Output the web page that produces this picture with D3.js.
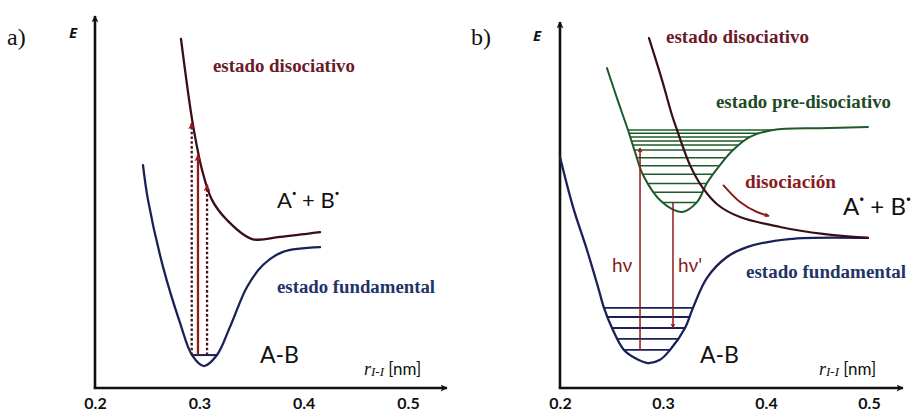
<!DOCTYPE html>
<html><head><meta charset="utf-8">
<script src="https://cdn.jsdelivr.net/npm/d3@7"></script>
<style>
html,body{margin:0;padding:0;background:#fff;}
svg{display:block;}
</style></head>
<body>
<svg id="chart" width="912" height="414"></svg>
<script>
// ---------- data (r in nm, E in arbitrary units) ----------
const xTicks = [0.2, 0.3, 0.4, 0.5];
const tickLabels = ["0.2", "0.3", "0.4", "0.5"];

// panel a
const groundA = [[0.246,6.09],[0.2508,5.14],[0.2652,3.31],[0.2815,1.78],[0.293,0.90],[0.3045,0.60],[0.3169,0.90],[0.3294,1.67],[0.3457,2.76],[0.361,3.36],[0.3802,3.72],[0.4157,3.85]];
const dissocA = [[0.2824,9.54],[0.2882,8.28],[0.2939,7.19],[0.3026,5.96],[0.3121,5.14],[0.3265,4.59],[0.3505,4.07],[0.3773,4.13],[0.4157,4.26]];
const levelsA = [0.90];
const arrowsA_r = [0.2927, 0.2987, 0.3074];
const arrowsA_top = [7.24, 6.37, 5.55];
const arrowsA_dotted = [true, false, true];

// panel b
const groundB = [[0.2,6.31],[0.2126,4.95],[0.2262,3.77],[0.2369,2.76],[0.2427,2.19],[0.2505,1.64],[0.2621,1.04],[0.2728,0.82],[0.2854,0.68],[0.2971,0.77],[0.3068,1.04],[0.3214,1.64],[0.3291,2.19],[0.3427,3.01],[0.3621,3.58],[0.3816,3.85],[0.4223,4.07],[0.499,4.10]];
const preDissocB = [[0.2456,8.74],[0.2553,7.92],[0.266,7.05],[0.2728,6.45],[0.2806,5.82],[0.299,5.08],[0.3184,4.81],[0.333,5.08],[0.3427,5.60],[0.3553,6.09],[0.368,6.50],[0.3845,6.86],[0.4068,7.05],[0.4524,7.10],[0.499,7.13]];
const dissocB = [[0.2864,9.56],[0.299,8.42],[0.3087,7.46],[0.3136,7.05],[0.3262,6.09],[0.3388,5.46],[0.3534,5.0],[0.3748,4.67],[0.4136,4.40],[0.4553,4.21],[0.499,4.10]];
const levelsGroundB = [2.19, 1.94, 1.64, 1.34, 1.04];
const levelsPreB = [7.05, 6.96, 6.86, 6.75, 6.64, 6.50, 6.29, 6.07, 5.84, 5.59, 5.35, 5.07];
const hvUp = [[0.2777,1.04],[0.2777,6.56]];
const hvDown = [[0.3097,5.07],[0.3097,1.64]];
const dissocArrow = [[0.3583,5.55],[0.3748,5.08],[0.3913,4.81],[0.4029,4.70]];

// ---------- setup ----------
const svg = d3.select("#chart");
const y = d3.scaleLinear().domain([0,10]).range([388,22]);
const xA = d3.scaleLinear().domain([0.2,0.5]).range([95,408]);
const xB = d3.scaleLinear().domain([0.2,0.5]).range([560,869]);

const C = {
  axis:"#111111", navy:"#1b2157", maroon:"#3a0d17", green:"#1f5a2a",
  red:"#8e1a1c", redHead:"#a5161a", textMaroon:"#6a1a28", textNavy:"#1f3468",
  textGreen:"#1f4a26", textRed:"#861c22", dotted:"#4b1519"
};

const defs = svg.append("defs");
function marker(id, color, w, h){
  defs.append("marker").attr("id",id).attr("viewBox","0 0 10 10")
    .attr("refX",9).attr("refY",5).attr("markerWidth",w).attr("markerHeight",h)
    .attr("markerUnits","userSpaceOnUse").attr("orient","auto")
    .append("path").attr("d","M0,0 L10,5 L0,10 L2.5,5 z").attr("fill",color);
}
marker("axisHead", C.axis, 11, 7);
marker("redHead", C.redHead, 8, 7);
marker("thinHead", C.red, 7, 5);

function drawAxes(x, axisX, topY, rightX){
  svg.append("line").attr("x1",axisX).attr("y1",y(0)).attr("x2",axisX).attr("y2",topY)
    .attr("stroke",C.axis).attr("stroke-width",2.6).attr("marker-end","url(#axisHead)");
  svg.append("line").attr("x1",axisX-1.3).attr("y1",y(0)).attr("x2",rightX).attr("y2",y(0))
    .attr("stroke",C.axis).attr("stroke-width",2.6).attr("marker-end","url(#axisHead)");
  const ax = d3.axisBottom(x).tickValues(xTicks).tickSize(0).tickFormat((d,i)=>tickLabels[i]);
  const g = svg.append("g").attr("transform",`translate(0,${y(0)})`).call(ax);
  g.select(".domain").remove();
  g.selectAll("text").attr("dy",0).attr("y",21)
    .attr("font-family","Lato, 'Open Sans', sans-serif").attr("font-weight","bold")
    .attr("font-size",16).attr("fill","#111");
}

function curve(x, data, color, w){
  const line = d3.line().x(d=>x(d[0])).y(d=>y(d[1])).curve(d3.curveCatmullRom.alpha(0.5));
  return svg.append("path").attr("d",line(data)).attr("fill","none")
    .attr("stroke",color).attr("stroke-width",w).attr("stroke-linejoin","round").attr("stroke-linecap","round");
}

function crossings(node, py){
  const len = node.getTotalLength();
  let prev = node.getPointAtLength(0), xs = [];
  for(let l=0.5; l<=len; l+=0.5){
    const p = node.getPointAtLength(l);
    if((prev.y-py)*(p.y-py) <= 0 && prev.y !== p.y){
      const t = (py-prev.y)/(p.y-prev.y);
      xs.push(prev.x + t*(p.x-prev.x));
    }
    prev = p;
  }
  return [d3.min(xs), d3.max(xs)];
}

function levels(node, vals, color, w){
  vals.forEach(v=>{
    const py = y(v), [x1,x2] = crossings(node, py);
    svg.append("line").attr("x1",x1).attr("x2",x2).attr("y1",py).attr("y2",py)
      .attr("stroke",color).attr("stroke-width",w);
  });
}

function text(x0, y0, str, opts){
  const t = svg.append("text").attr("x",x0).attr("y",y0).text(str);
  Object.entries(opts).forEach(([k,v])=>t.attr(k,v));
  return t;
}
const serifB = {"font-family":"'Liberation Serif', 'Times New Roman', serif","font-weight":"bold"};

// ---------- panel a ----------
drawAxes(xA, xA(0.2), 16, 447);
const gA = curve(xA, groundA, C.navy, 2.3);
curve(xA, dissocA, C.maroon, 2.3);
levels(gA.node(), levelsA, C.navy, 2);
arrowsA_r.forEach((r,i)=>{
  const l = svg.append("line").attr("x1",xA(r)).attr("x2",xA(r))
    .attr("y1",y(levelsA[0])).attr("y2",y(arrowsA_top[i]))
    .attr("stroke", arrowsA_dotted[i] ? C.dotted : C.red)
    .attr("stroke-width", 2.3).attr("marker-end","url(#redHead)");
  if(arrowsA_dotted[i]) l.attr("stroke-dasharray","2.6,2.2");
});

// ---------- panel b ----------
drawAxes(xB, xB(0.2), 22, 903);
const gB = curve(xB, groundB, C.navy, 2.3);
const pB = curve(xB, preDissocB, C.green, 2);
levels(gB.node(), levelsGroundB, C.navy, 1.8);
levels(pB.node(), levelsPreB, C.green, 1.5);
curve(xB, dissocB, C.maroon, 2.2);
[hvUp, hvDown].forEach(a=>{
  svg.append("line").attr("x1",xB(a[0][0])).attr("y1",y(a[0][1]))
    .attr("x2",xB(a[1][0])).attr("y2",y(a[1][1]))
    .attr("stroke",C.red).attr("stroke-width",1.5).attr("marker-end","url(#thinHead)");
});
svg.append("path").attr("d", d3.line().x(d=>xB(d[0])).y(d=>y(d[1])).curve(d3.curveNatural)(dissocArrow))
  .attr("fill","none").attr("stroke",C.red).attr("stroke-width",2).attr("marker-end","url(#thinHead)");

// ---------- text ----------
text(7, 45, "a)", {"font-family":"'Liberation Serif', serif","font-size":24,"fill":"#111"});
text(471, 45, "b)", {"font-family":"'Liberation Serif', serif","font-size":24,"fill":"#111"});
text(69, 38, "E", {"font-family":"'Open Sans', sans-serif","font-weight":"bold","font-style":"italic","font-size":15,"fill":"#111"});
text(533, 41, "E", {"font-family":"'Open Sans', sans-serif","font-weight":"bold","font-style":"italic","font-size":15,"fill":"#111"});

text(213, 72, "estado disociativo", Object.assign({"font-size":18,"fill":C.textMaroon,"textLength":142,"lengthAdjust":"spacingAndGlyphs"}, serifB));
text(277, 293, "estado fundamental", Object.assign({"font-size":18,"fill":C.textNavy,"textLength":158,"lengthAdjust":"spacingAndGlyphs"}, serifB));
text(666, 43, "estado disociativo", Object.assign({"font-size":18,"fill":C.textMaroon,"textLength":143,"lengthAdjust":"spacingAndGlyphs"}, serifB));
text(716, 108, "estado pre-disociativo", Object.assign({"font-size":18,"fill":C.textGreen,"textLength":175,"lengthAdjust":"spacingAndGlyphs"}, serifB));
text(745, 188, "disociación", Object.assign({"font-size":19,"fill":C.textRed,"textLength":91,"lengthAdjust":"spacingAndGlyphs"}, serifB));
text(746, 278, "estado fundamental", Object.assign({"font-size":18,"fill":C.textNavy,"textLength":160,"lengthAdjust":"spacingAndGlyphs"}, serifB));

function radicals(x0, y0, fs){
  const t = svg.append("text").attr("x",x0).attr("y",y0)
    .attr("font-family","Lato, 'Open Sans', sans-serif").attr("font-size",fs).attr("fill","#111");
  t.append("tspan").text("A");
  t.append("tspan").attr("dy",-fs*0.4).attr("font-size",fs*0.75).attr("font-weight","bold").text("·");
  t.append("tspan").attr("dy",fs*0.4).text(" + B");
  t.append("tspan").attr("dy",-fs*0.4).attr("font-size",fs*0.75).attr("font-weight","bold").text("·");
}
radicals(277, 208, 22);
radicals(843, 215, 24);

const sansAB = {"font-family":"Lato, 'Open Sans', sans-serif","font-size":23,"fill":"#111"};
text(260, 363, "A-B", sansAB);
text(700, 363, "A-B", sansAB);

text(612, 272, "hν", {"font-family":"Lato, 'Open Sans', sans-serif","font-size":19,"fill":C.textRed});
text(678, 272, "hν'", {"font-family":"Lato, 'Open Sans', sans-serif","font-size":19,"fill":C.textRed});

function rLabel(x0, y0){
  const t = svg.append("text").attr("x",x0).attr("y",y0).attr("fill","#111");
  t.append("tspan").attr("font-family","'Liberation Serif', serif").attr("font-style","italic").attr("font-size",18).text("r");
  t.append("tspan").attr("font-family","'Liberation Serif', serif").attr("font-style","italic").attr("font-size",13).attr("dy",1).text("I-I");
  t.append("tspan").attr("font-family","Lato, 'Open Sans', sans-serif").attr("font-size",17).attr("dy",-1).text(" [nm]");
}
rLabel(364, 375);
rLabel(819, 375);
</script>
</body></html>
